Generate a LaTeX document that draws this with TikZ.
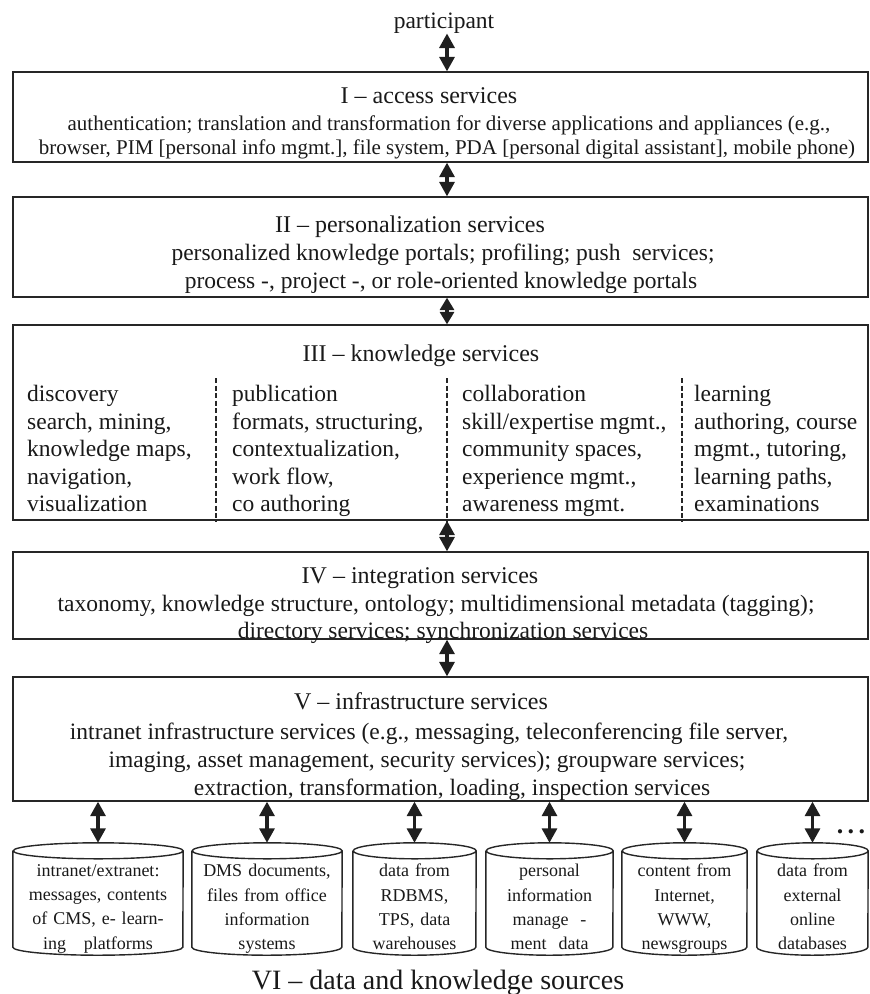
\documentclass[tikz,border=0pt]{standalone}
\usepackage{fontspec}
\setmainfont{Liberation Serif}
\usetikzlibrary{arrows.meta}

% one data-source cylinder: name, centre x, width, text
\newcommand\datacyl[4]{%
  \node[cylbody, minimum width=#3pt] (#1) at (#2,-899) {};
  \draw[cylline] ([yshift=-8pt]#1.north west) -- ([yshift=8pt]#1.south west)
     arc[start angle=180, end angle=360, x radius=#3/2, y radius=8]
     -- ([yshift=-8pt]#1.north east)
     arc[start angle=0, end angle=360, x radius=#3/2, y radius=8];
  \node[cyltext, text width=#3pt, anchor=north] (#1-t) at (#2,-864) {#4};
}

\begin{document}
\begin{tikzpicture}[x=1pt, y=1pt,
  layer/.style={draw=black!85, line width=1.3pt, minimum width=855pt, inner sep=0pt},
  line/.style={inner sep=0pt, anchor=mid, text=black!90},
  ttl/.style={line, font=\fontsize{24}{28}\selectfont},
  bodysm/.style={line, font=\fontsize{21}{24}\selectfont},
  body/.style={line, font=\fontsize{23.5}{27.5}\selectfont},
  col/.style={inner sep=0pt, anchor=north west, align=left, text=black!90,
              font=\fontsize{23.5}{27.5}\selectfont},
  divider/.style={draw=black!85, line width=1.6pt, dash pattern=on 5pt off 2.5pt},
  cylbody/.style={inner sep=0pt, minimum height=112pt},
  cylline/.style={draw=black!85, line width=1.4pt},
  cyltext/.style={inner sep=0pt, align=center, text=black!90,
                  font=\fontsize{18}{24.3}\selectfont},
  link/.style={{Triangle[length=14.5pt,width=15pt]}-{Triangle[length=14.5pt,width=15pt]},
               line width=3.2pt, black!88},
  shortlink/.style={{Triangle[length=12.5pt,width=14pt]}-{Triangle[length=12.5pt,width=14pt]},
               line width=3.2pt, black!88},
]
\useasboundingbox (0,0) rectangle (870,-994);
\coordinate (axis) at (447,0);

% top participant
\node[line, font=\fontsize{23.5}{27}\selectfont] (part) at (444,-26) {participant};

% service layers
\node[layer, minimum height=90pt]  (acc)   at (440.5,-117)   {};
\node[layer, minimum height=100pt] (pers)  at (440.5,-247)   {};
\node[layer, minimum height=195pt] (know)  at (440.5,-422.5) {};
\node[layer, minimum height=87pt]  (integ) at (440.5,-595.5) {};
\node[layer, minimum height=124pt] (infra) at (440.5,-739)   {};

% I
\node[ttl] (acc-t) at (429,-101) {I -- access services};
\node[bodysm] (acc-a) at (449,-128) {authentication; translation and transformation for diverse applications and appliances (e.g.,};
\node[bodysm] (acc-b) at (447,-152) {browser, PIM [personal info mgmt.], file system, PDA [personal digital assistant], mobile phone)};

% II
\node[ttl] (pers-t) at (410,-230) {II -- personalization services};
\node[body] (pers-a) at (443,-258) {personalized knowledge portals; profiling; push~ services;};
\node[body] (pers-b) at (441,-286) {process -, project -, or role-oriented knowledge portals};

% III
\node[ttl] (know-t) at (421,-359) {III -- knowledge services};
\node[col] (disc) at (27,-385)  {discovery\\search, mining,\\knowledge maps,\\navigation,\\visualization};
\node[col] (publ) at (232,-385) {publication\\formats, structuring,\\contextualization,\\work flow,\\co authoring};
\node[col] (coll) at (462,-385) {collaboration\\skill/expertise mgmt.,\\community spaces,\\experience mgmt.,\\awareness mgmt.};
\node[col] (lern) at (694,-385) {learning\\authoring, course\\mgmt., tutoring,\\learning paths,\\examinations};
\draw[divider] (216,-378) -- (know.south -| 216,0);
\draw[divider] (447,-378) -- (know.south -| 447,0);
\draw[divider] (682,-378) -- (know.south -| 682,0);

% IV
\node[ttl] (integ-t) at (420,-581) {IV -- integration services};
\node[body] (integ-a) at (436,-609) {taxonomy, knowledge structure, ontology; multidimensional metadata (tagging);};
\node[body] (integ-b) at (443,-636) {directory services; synchronization services};

% V
\node[ttl] (infra-t) at (421,-707) {V -- infrastructure services};
\node[body] (infra-a) at (429,-737) {intranet infrastructure services (e.g., messaging, teleconferencing file server,};
\node[body] (infra-b) at (427,-765) {imaging, asset management, security services); groupware services;};
\node[body] (infra-c) at (452,-793) {extraction, transformation, loading, inspection services};

% VI data sources
\datacyl{src1}{98}{170}{intranet/extranet:\\messages, contents\\of CMS, e- learn-\\ing\quad platforms}
\datacyl{src2}{267}{150}{DMS documents,\\files from office\\information\\systems}
\datacyl{src3}{414.5}{123}{data from\\RDBMS,\\TPS, data\\warehouses}
\datacyl{src4}{549.5}{127}{personal\\information\\manage~ -\\ment~ data}
\datacyl{src5}{684.5}{125}{content from\\Internet,\\WWW,\\newsgroups}
\datacyl{src6}{812.5}{111}{data from\\external\\online\\databases}
\node[line, font=\bfseries\fontsize{26}{30}\selectfont] (more) at (851,-831) {.\,.\,.};
\node[line, font=\fontsize{28}{32}\selectfont] (src-t) at (438,-987) {VI -- data and knowledge sources};

% connectors between layers
\draw[link] (part.south -| axis) -- (acc.north -| axis);
\draw[link] (acc.south -| axis) -- (pers.north -| axis);
\draw[shortlink] (pers.south -| axis) -- (know.north -| axis);
\draw[link] (know.south -| axis) -- (integ.north -| axis);
\draw[link] (integ.south -| axis) -- (infra.north -| axis);
\foreach \s in {src1,src2,src3,src4,src5,src6}
  \draw[link] (infra.south -| \s.north) -- (\s.north);
\end{tikzpicture}
\end{document}
